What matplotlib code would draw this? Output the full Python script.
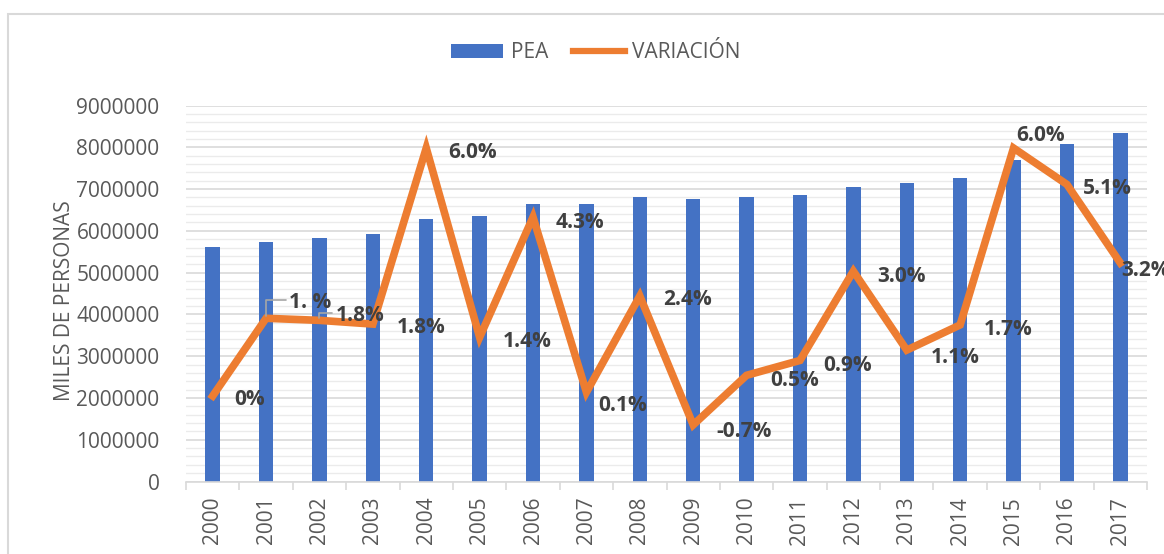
import matplotlib.pyplot as plt
from matplotlib.lines import Line2D
from matplotlib.patches import Patch, Rectangle
from matplotlib.ticker import MultipleLocator, FuncFormatter

years = [str(y) for y in range(2000, 2018)]
pea = [5617000, 5722000, 5825000, 5928000, 6280000, 6359000, 6632000, 6639000, 6806000,
       6758000, 6799000, 6847000, 7053000, 7134000, 7254000, 7691000, 8081000, 8337000]
variacion = [0.02, 1.90, 1.85, 1.76, 6.02, 1.44, 4.35, 0.11, 2.44,
             -0.68, 0.52, 0.88, 3.04, 1.13, 1.74, 6.02, 5.14, 3.24]
var_labels = ["0%", "1. %", "1.8%", "1.8%", "6.0%", "1.4%", "4.3%", "0.1%", "2.4%",
              "-0.7%", "0.5%", "0.9%", "3.0%", "1.1%", "1.7%", "6.0%", "5.1%", "3.2%"]

# label offsets in pixels (x right, y up), Excel-like placement
label_offsets = [(22, -4), (23, 16), (16, 5), (24, -3), (22, -4), (23, -4), (23, -5), (12, -13),
                 (23, -4), (23, -7), (24, -5), (23, -5), (24, -5), (24, -7), (24, -5), (3, 13),
                 (16, -4), (1, -8)]
leader = [False, True, True] + [False] * 15

BLUE = "#4472C4"
ORANGE = "#ED7D31"
TXT = "#595959"
plt.rcParams["font.family"] = ["Open Sans", "DejaVu Sans"]

fig = plt.figure(figsize=(11.64, 5.54), dpi=100)
ax = fig.add_axes([186 / 1164, 1 - 481.5 / 554, (1147 - 186) / 1164, (481.5 - 105.5) / 554])

x = list(range(len(years)))
ax.bar(x, pea, width=0.27, color=BLUE, zorder=2)
ax.set_xlim(-0.5, len(years) - 0.5)
ax.set_ylim(0, 9000000)
ax.yaxis.set_major_locator(MultipleLocator(1000000))
ax.yaxis.set_minor_locator(MultipleLocator(200000))
ax.yaxis.set_major_formatter(FuncFormatter(lambda v, p: f"{int(v)}"))
ax.grid(axis="y", which="major", color="#D9D9D9", lw=1.2, zorder=0)
ax.grid(axis="y", which="minor", color="#EBEBEB", lw=1.0, zorder=0)
ax.set_axisbelow(True)
for s in ["top", "right", "left"]:
    ax.spines[s].set_visible(False)
ax.spines["bottom"].set_color("#D9D9D9")
ax.spines["bottom"].set_linewidth(1.2)

ax.set_xticks(x)
ax.set_xticklabels(years, rotation=90, fontsize=15, color=TXT)
ax.set_xticks([i - 0.5 for i in range(len(years) + 1)], minor=True)
ax.tick_params(axis="x", which="major", length=0, pad=11)
ax.tick_params(axis="x", which="minor", length=6, color="#D9D9D9", width=1.2)
ax.tick_params(axis="y", which="both", length=0, pad=19, labelsize=15, labelcolor=TXT)
ax.set_ylabel("MILES DE PERSONAS", fontsize=15, color=TXT)
ax.yaxis.set_label_coords(-0.116, 0.48)

ax2 = ax.twinx()
ax2.plot(x, variacion, color=ORANGE, lw=5.5, solid_joinstyle="miter", zorder=3)
ax2.set_ylim(-2.05, 7.05)
ax2.axis("off")

for i, (v, lab) in enumerate(zip(variacion, var_labels)):
    dx, dy = label_offsets[i]
    ax2.annotate(lab, (x[i], v), xytext=(dx, dy), textcoords="offset pixels",
                 ha="left", va="center", fontsize=15, fontweight="bold", color="#404040")
    if leader[i]:
        ax2.annotate("", (x[i], v), xytext=(dx - 3, dy + 2), textcoords="offset pixels",
                     arrowprops=dict(arrowstyle="-", color="#A6A6A6", lw=1.2,
                                     connectionstyle="angle,angleA=0,angleB=90,rad=0",
                                     shrinkA=0, shrinkB=2))

handles = [Patch(facecolor=BLUE, label="PEA"),
           Line2D([0], [0], color=ORANGE, lw=4.5, label="VARIACIÓN")]
fig.legend(handles=handles, loc="center", bbox_to_anchor=(596 / 1164, 1 - 53 / 554), ncol=2,
           frameon=False, fontsize=15, labelcolor=TXT, handlelength=2.5, handleheight=0.65,
           handletextpad=0.35, columnspacing=1.2)

fig.patches.append(Rectangle((8 / 1164, -0.1), 1.2, 1 - 14 / 554 + 0.1, transform=fig.transFigure,
                             fill=False, edgecolor="#D9D9D9", lw=1.5))

fig.savefig("out.png", dpi=100)
